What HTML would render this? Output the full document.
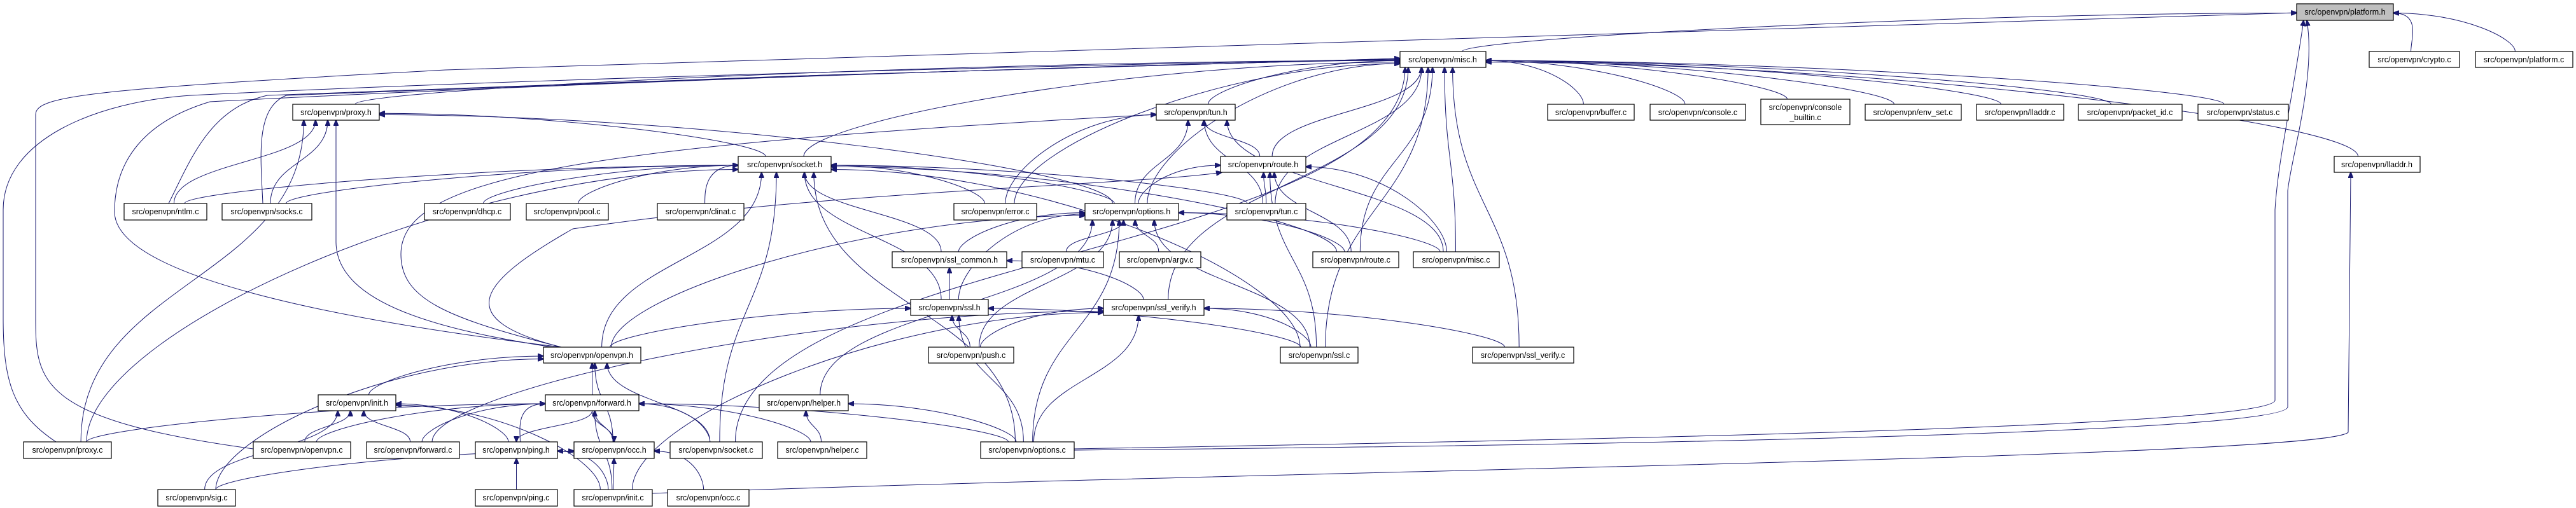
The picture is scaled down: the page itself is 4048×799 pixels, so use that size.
<!DOCTYPE html>
<html><head><meta charset="utf-8"><style>
html,body{margin:0;padding:0;background:#fff;width:4048px;height:799px;overflow:hidden}
svg{display:block}
text{font-family:"Liberation Sans",sans-serif;font-size:12.5px;fill:#000}
</style></head><body>
<svg id="g" width="4048" height="799" viewBox="0 0 4048 799" xmlns="http://www.w3.org/2000/svg">
<defs><marker id="a" markerWidth="10" markerHeight="8" refX="9" refY="4" orient="auto" markerUnits="userSpaceOnUse"><path d="M0,0 L10,4 L0,8 z" fill="#191970" stroke="#191970"/></marker></defs>
<g id="edges" fill="none" stroke="#191970" stroke-width="1"></g>
<g id="nodes" stroke="#000" stroke-width="1.2">
<rect x="3609" y="6" width="152" height="26" fill="#bfbfbf"/>
<rect x="2200" y="81" width="135" height="25" fill="#fff"/>
<rect x="3723" y="81" width="142" height="25" fill="#fff"/>
<rect x="3890" y="81" width="153" height="25" fill="#fff"/>
<rect x="460" y="164" width="136" height="25" fill="#fff"/>
<rect x="1817" y="164" width="124" height="25" fill="#fff"/>
<rect x="2432" y="164" width="136" height="25" fill="#fff"/>
<rect x="2593" y="164" width="150" height="25" fill="#fff"/>
<rect x="2767" y="156" width="140" height="40" fill="#fff"/>
<rect x="2931" y="164" width="151" height="25" fill="#fff"/>
<rect x="3106" y="164" width="137" height="25" fill="#fff"/>
<rect x="3266" y="164" width="163" height="25" fill="#fff"/>
<rect x="3454" y="164" width="142" height="25" fill="#fff"/>
<rect x="1160" y="246" width="146" height="25" fill="#fff"/>
<rect x="1918" y="246" width="134" height="25" fill="#fff"/>
<rect x="3668" y="246" width="135" height="25" fill="#fff"/>
<rect x="195" y="320" width="130" height="26" fill="#fff"/>
<rect x="349" y="320" width="141" height="26" fill="#fff"/>
<rect x="667" y="320" width="135" height="26" fill="#fff"/>
<rect x="827" y="320" width="129" height="26" fill="#fff"/>
<rect x="1033" y="320" width="136" height="26" fill="#fff"/>
<rect x="1499" y="320" width="130" height="26" fill="#fff"/>
<rect x="1705" y="320" width="147" height="26" fill="#fff"/>
<rect x="1928" y="320" width="124" height="26" fill="#fff"/>
<rect x="1402" y="396" width="180" height="25" fill="#fff"/>
<rect x="1606" y="396" width="128" height="25" fill="#fff"/>
<rect x="1759" y="396" width="128" height="25" fill="#fff"/>
<rect x="2063" y="396" width="135" height="25" fill="#fff"/>
<rect x="2221" y="396" width="135" height="25" fill="#fff"/>
<rect x="1431" y="471" width="122" height="25" fill="#fff"/>
<rect x="1734" y="471" width="158" height="25" fill="#fff"/>
<rect x="854" y="546" width="153" height="25" fill="#fff"/>
<rect x="1459" y="546" width="134" height="25" fill="#fff"/>
<rect x="2012" y="546" width="122" height="25" fill="#fff"/>
<rect x="2314" y="546" width="159" height="25" fill="#fff"/>
<rect x="500" y="621" width="122" height="25" fill="#fff"/>
<rect x="857" y="621" width="147" height="25" fill="#fff"/>
<rect x="1193" y="621" width="140" height="25" fill="#fff"/>
<rect x="37" y="695" width="138" height="26" fill="#fff"/>
<rect x="398" y="695" width="153" height="26" fill="#fff"/>
<rect x="576" y="695" width="146" height="26" fill="#fff"/>
<rect x="747" y="695" width="129" height="26" fill="#fff"/>
<rect x="902" y="695" width="126" height="26" fill="#fff"/>
<rect x="1053" y="695" width="145" height="26" fill="#fff"/>
<rect x="1222" y="695" width="140" height="26" fill="#fff"/>
<rect x="1541" y="695" width="147" height="26" fill="#fff"/>
<rect x="248" y="770" width="122" height="26" fill="#fff"/>
<rect x="747" y="770" width="129" height="26" fill="#fff"/>
<rect x="902" y="770" width="123" height="26" fill="#fff"/>
<rect x="1049" y="770" width="128" height="26" fill="#fff"/>
</g>
<g text-anchor="middle">
<text x="3685" y="23">src/openvpn/platform.h</text>
<text x="2267" y="98">src/openvpn/misc.h</text>
<text x="3794" y="98">src/openvpn/crypto.c</text>
<text x="3966" y="98">src/openvpn/platform.c</text>
<text x="528" y="181">src/openvpn/proxy.h</text>
<text x="1879" y="181">src/openvpn/tun.h</text>
<text x="2500" y="181">src/openvpn/buffer.c</text>
<text x="2668" y="181">src/openvpn/console.c</text>
<text x="2837" y="173">src/openvpn/console</text>
<text x="2837" y="189">_builtin.c</text>
<text x="3006" y="181">src/openvpn/env_set.c</text>
<text x="3174" y="181">src/openvpn/lladdr.c</text>
<text x="3347" y="181">src/openvpn/packet_id.c</text>
<text x="3525" y="181">src/openvpn/status.c</text>
<text x="1233" y="263">src/openvpn/socket.h</text>
<text x="1985" y="263">src/openvpn/route.h</text>
<text x="3735" y="263">src/openvpn/lladdr.h</text>
<text x="260" y="337">src/openvpn/ntlm.c</text>
<text x="419" y="337">src/openvpn/socks.c</text>
<text x="734" y="337">src/openvpn/dhcp.c</text>
<text x="891" y="337">src/openvpn/pool.c</text>
<text x="1101" y="337">src/openvpn/clinat.c</text>
<text x="1564" y="337">src/openvpn/error.c</text>
<text x="1778" y="337">src/openvpn/options.h</text>
<text x="1990" y="337">src/openvpn/tun.c</text>
<text x="1492" y="413">src/openvpn/ssl_common.h</text>
<text x="1670" y="413">src/openvpn/mtu.c</text>
<text x="1823" y="413">src/openvpn/argv.c</text>
<text x="2130" y="413">src/openvpn/route.c</text>
<text x="2288" y="413">src/openvpn/misc.c</text>
<text x="1492" y="488">src/openvpn/ssl.h</text>
<text x="1813" y="488">src/openvpn/ssl_verify.h</text>
<text x="930" y="563">src/openvpn/openvpn.h</text>
<text x="1526" y="563">src/openvpn/push.c</text>
<text x="2073" y="563">src/openvpn/ssl.c</text>
<text x="2393" y="563">src/openvpn/ssl_verify.c</text>
<text x="561" y="638">src/openvpn/init.h</text>
<text x="930" y="638">src/openvpn/forward.h</text>
<text x="1263" y="638">src/openvpn/helper.h</text>
<text x="106" y="712">src/openvpn/proxy.c</text>
<text x="474" y="712">src/openvpn/openvpn.c</text>
<text x="649" y="712">src/openvpn/forward.c</text>
<text x="811" y="712">src/openvpn/ping.h</text>
<text x="965" y="712">src/openvpn/occ.h</text>
<text x="1125" y="712">src/openvpn/socket.c</text>
<text x="1292" y="712">src/openvpn/helper.c</text>
<text x="1614" y="712">src/openvpn/options.c</text>
<text x="309" y="787">src/openvpn/sig.c</text>
<text x="811" y="787">src/openvpn/ping.c</text>
<text x="963" y="787">src/openvpn/init.c</text>
<text x="1113" y="787">src/openvpn/occ.c</text>
</g>
</svg>
<script>
var N={PH:[3609,3761,6,32],MH:[2200,2335,81,106],CRc:[3723,3865,81,106],PLc:[3890,4043,81,106],
PXh:[460,596,164,189],TNh:[1817,1941,164,189],BFc:[2432,2568,164,189],CNc:[2593,2743,164,189],CBc:[2767,2907,156,196],
ESc:[2931,3082,164,189],LLc:[3106,3243,164,189],PIc:[3266,3429,164,189],STc:[3454,3596,164,189],
SKh:[1160,1306,246,271],RTh:[1918,2052,246,271],LLh:[3668,3803,246,271],
NTc:[195,325,320,346],SOc:[349,490,320,346],DHc:[667,802,320,346],POc:[827,956,320,346],CLc:[1033,1169,320,346],
ERc:[1499,1629,320,346],OPh:[1705,1852,320,346],TNc:[1928,2052,320,346],
SCh:[1402,1582,396,421],MTc:[1606,1734,396,421],ARc:[1759,1887,396,421],RTc:[2063,2198,396,421],MIc:[2221,2356,396,421],
SSh:[1431,1553,471,496],SVh:[1734,1892,471,496],
OVh:[854,1007,546,571],PUc:[1459,1593,546,571],SSc:[2012,2134,546,571],SVc:[2314,2473,546,571],
INh:[500,622,621,646],FWh:[857,1004,621,646],HLh:[1193,1333,621,646],
PXc:[37,175,695,721],OVc:[398,551,695,721],FWc:[576,722,695,721],PGh:[747,876,695,721],OCh:[902,1028,695,721],
SKc:[1053,1198,695,721],HLc:[1222,1362,695,721],OPc:[1541,1688,695,721],
SGc:[248,370,770,796],PGc:[747,876,770,796],INc:[902,1025,770,796],OCc:[1049,1177,770,796]};
var E=[
['MH','PH'],['CRc','PH'],['PLc','PH'],
['PXh','MH'],['SKh','MH'],['TNh','MH'],['RTh','MH'],
['ERc','MH'],['OPh','MH'],['TNc','MH'],['RTc','MH'],['MIc','MH'],['SSc','MH'],['SVc','MH'],['SVh','MH'],
['SKc','MH'],['BFc','MH'],['CNc','MH'],['CBc','MH'],['ESc','MH'],['LLc','MH'],['PIc','MH'],
['STc','MH'],['LLh','MH'],
['INc','SVh'],
['OPh','TNh'],['ERc','TNh'],['RTh','TNh'],['TNc','TNh'],['MIc','TNh'],
['TNc','RTh'],['RTc','RTh'],['MIc','RTh'],['OPh','RTh'],['SSc','RTh'],
['SKh','PXh'],['OPh','PXh'],['NTc','PXh'],['SOc','PXh'],['PXc','PXh'],
['NTc','SKh'],['SOc','SKh'],['DHc','SKh'],['POc','SKh'],['CLc','SKh'],['ERc','SKh'],['OPh','SKh'],['TNc','SKh'],
['SCh','SKh'],['SSh','SKh'],['OVh','SKh'],['SKc','SKh'],['OPc','SKh'],['PXc','SKh'],['RTc','SKh'],['SSc','SKh'],
['OVh','OPh'],['SCh','OPh'],['MTc','OPh'],['ARc','OPh'],['SSh','OPh'],['HLh','OPh'],['OPc','OPh'],['SSc','OPh'],
['RTc','OPh'],['MIc','OPh'],['PUc','OPh'],
['SSh','SCh'],['SVh','SCh'],
['OVh','SSh'],['PUc','SSh'],['OPc','SSh'],['SSc','SSh'],
['PUc','SVh'],['OPc','SVh'],['SSc','SVh'],['SVc','SVh'],['FWc','SVh'],
['INh','OVh'],['FWh','OVh'],['SGc','OVh'],['SKc','OVh'],['OCh','OVh'],
['OVc','INh'],['FWc','INh'],['PGh','INh'],['SGc','INh'],['INc','INh'],
['PXc','FWh'],['OVc','FWh'],['FWc','FWh'],['PGh','FWh'],['OCh','FWh'],['SKc','FWh'],['HLc','FWh'],['OPc','FWh'],['INc','FWh'],
['FWh','PGh'],['FWh','OCh'],
['PGc','PGh'],['INc','PGh'],['SGc','OCh'],['INc','OCh'],['OCc','OCh'],
['HLc','HLh'],['OPc','HLh']];
var C=[
'M398,706 C60,660 56,600 56,500 L56,180 C56,150 150,140 700,110 L3609,20',
'M1688,706 C2600,690 3560,670 3575,630 L3575,330 C3580,250 3600,170 3620,32',
'M1688,708 C2600,700 3590,680 3595,640 L3595,300 C3600,250 3640,120 3625,32',
'M1025,776 C2000,740 3650,720 3690,680 L3694,271',
'M88,695 C20,650 5,600 5,500 L5,330 C5,220 150,160 300,150 C900,120 1800,100 2200,93',
'M265,320 C300,250 330,170 420,150 C900,130 1800,100 2200,92',
'M413,320 C410,250 400,170 450,150 C900,130 1800,100 2200,92',
'M882,546 C500,500 180,430 180,333 C180,250 230,190 330,160 C900,130 1800,100 2200,94',
'M882,546 C700,500 630,470 630,400 C630,280 900,230 1817,180',
'M868,546 C700,520 528,480 528,380 L528,189',
'M882,546 C700,500 760,440 900,360 C1300,300 1800,290 1920,271'];
var g=document.getElementById('edges'),d='';
C.forEach(function(p){d+='<path d="'+p+'" marker-end="url(#a)"/>';});
E.forEach(function(e){
 var c=N[e[0]],p=N[e[1]];
 var ccx=(c[0]+c[1])/2,pcx=(p[0]+p[1])/2,pcy=(p[2]+p[3])/2,ccy=(c[2]+c[3])/2;
 var sx,sy,tx,ty,path;
 if(c[2]>p[3]+5){
  var dx=ccx-pcx,dy=c[2]-p[3];
  sx=ccx+Math.max(-30,Math.min(30,-dx*0.05));sy=c[2];
  if(Math.abs(dx)>2.2*dy){
   ty=pcy+Math.max(-8,Math.min(8,dy*0.03)); tx=dx<0?p[0]:p[1];
   path='M'+sx+','+sy+' C'+sx+','+(sy-dy*0.4)+' '+(tx+(dx<0?-1:1)*Math.abs(dx)*0.4)+','+ty+' '+tx+','+ty;
  } else {
   tx=pcx+Math.max(-(p[1]-p[0])/2+8,Math.min((p[1]-p[0])/2-8,dx*0.12));ty=p[3];
   path='M'+sx+','+sy+' C'+sx+','+(sy-dy*0.5)+' '+tx+','+(ty+dy*0.5)+' '+tx+','+ty;
  }
 } else {
  sx=ccx;sy=c[3];tx=pcx;ty=p[2];
  var dy=ty-sy;
  path='M'+sx+','+sy+' C'+sx+','+(sy+dy*0.5)+' '+tx+','+(ty-dy*0.5)+' '+tx+','+ty;
 }
 d+='<path d="'+path+'" marker-end="url(#a)"/>';
});
g.innerHTML=d;
</script>
</body></html>
